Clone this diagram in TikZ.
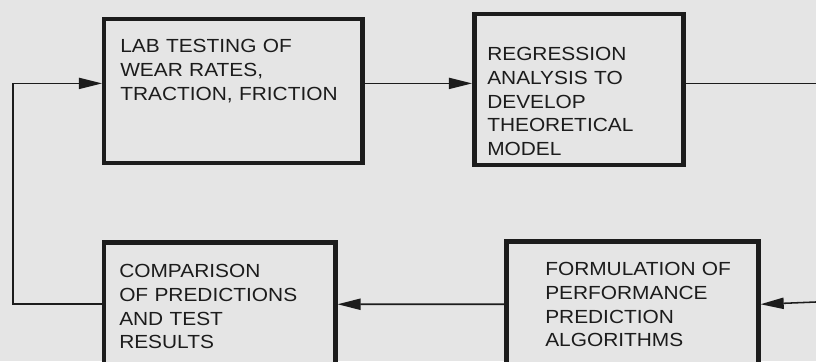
\documentclass[tikz,border=0pt]{standalone}
\usepackage{fontspec}
\setmainfont{Liberation Sans}[FakeStretch=1.1]
\usetikzlibrary{arrows.meta}

\definecolor{paper}{RGB}{229,229,229}
\definecolor{ink}{RGB}{28,28,28}

\tikzset{
  procbox/.style={draw=ink, fill=paper, line width=3.2pt, anchor=north west,
    align=left, text=ink, text height=0.34cm,
    font=\fontsize{13.5}{17}\selectfont},
  flow/.style={draw=ink, line width=1.1pt}
}

\begin{document}
\begin{tikzpicture}[>={Triangle[length=5.8mm,width=2.8mm]}]

% ---------------- PAGE ----------------
\useasboundingbox (0,0) rectangle (20.4,9.025);
\fill[paper] (0,0) rectangle (20.4,9.025);

% ---------------- TOP ROW ----------------
\node[procbox, text width=5.65cm, inner xsep=0.4cm, inner ysep=0.485cm, text depth=2.29cm]
  (lab) at (2.55,8.6) {LAB TESTING OF\\WEAR RATES,\\TRACTION, FRICTION};
\node[procbox, text width=4.575cm, inner xsep=0.325cm, inner ysep=0.81cm, text depth=1.815cm]
  (reg) at (11.8,8.725) {REGRESSION\\ANALYSIS TO\\DEVELOP\\THEORETICAL\\MODEL};

% ---------------- BOTTOM ROW (cut by the page) ----------------
\node[procbox, text width=5.025cm, inner xsep=0.375cm, inner ysep=0.535cm, text depth=1.69cm]
  (cmp) at (2.55,3.025) {COMPARISON\\OF PREDICTIONS\\AND TEST\\RESULTS};
\node[procbox, text width=5.5cm, inner xsep=0.4cm, inner ysep=0.51cm, text depth=1.79cm,
  execute at begin node={\leftskip=5.75mm}]
  (frm) at (12.6,3.05) {FORMULATION OF\\PERFORMANCE\\PREDICTION\\ALGORITHMS};

% free ends of the loop
\coordinate (loopT) at (0.33,6.94);
\coordinate (outR) at (20.4,6.94);
\coordinate (inR) at (20.4,1.475);

% ---------------- CONNECTORS ----------------
\draw[flow,->] (lab.east |- loopT) -- (reg.west |- loopT);
\draw[flow] (reg.east |- outR) -- (outR);
\draw[flow,->] (inR) -- (frm.east);
\draw[flow,->] (frm.west) -- (cmp.east);
% feedback back to the lab
\draw[flow,->] (cmp.west) -| (loopT) -- (lab.west |- loopT);

\end{tikzpicture}
\end{document}
